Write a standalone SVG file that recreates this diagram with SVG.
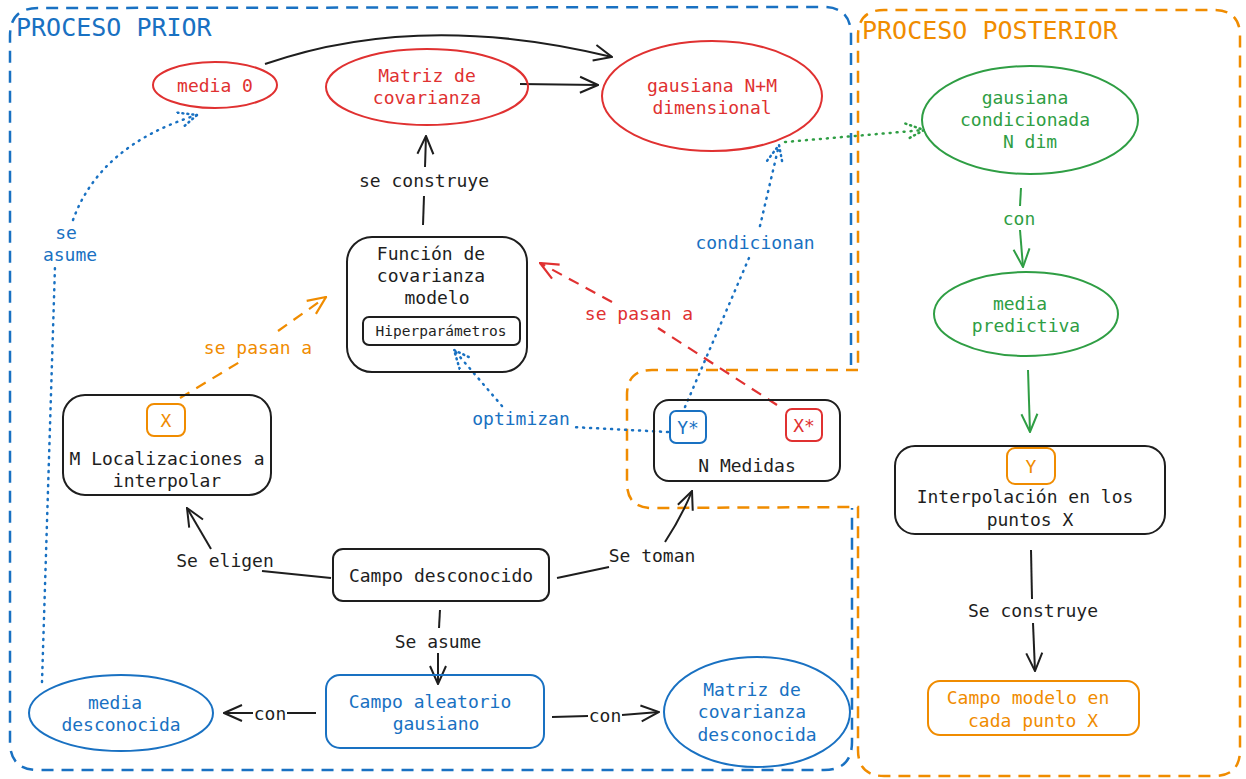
<svg xmlns="http://www.w3.org/2000/svg" width="1246" height="779" viewBox="0 0 1246 779">
<style>
text{font-family:"DejaVu Sans Mono","Liberation Mono",monospace;font-size:18px;text-anchor:middle}
.k{fill:#1e1e1e}.b{fill:#1971c2}.r{fill:#e03131}.o{fill:#f08c00}.g{fill:#2f9e44}
.title{font-size:25px;text-anchor:start}
.sm{font-size:14.5px}
.nk{fill:none;stroke:#1e1e1e;stroke-width:2}
.nb{fill:none;stroke:#1971c2;stroke-width:2}
.nr{fill:none;stroke:#e03131;stroke-width:2}
.no{fill:none;stroke:#f08c00;stroke-width:2}
.ng{fill:none;stroke:#2f9e44;stroke-width:2}
.cont{fill:none;stroke-width:2.5;stroke-dasharray:12 8}
.ck{fill:none;stroke:#1e1e1e;stroke-width:2}
.cg{fill:none;stroke:#2f9e44;stroke-width:2}
.dot{fill:none;stroke-width:2.5;stroke-dasharray:1 6;stroke-linecap:round}
.dash{fill:none;stroke-width:2.2;stroke-dasharray:11 8}
</style>
<defs>
<marker id="ak" viewBox="0 0 20 20" refX="19" refY="10" markerWidth="20" markerHeight="20" orient="auto" markerUnits="userSpaceOnUse"><path d="M1,2 L19,10 L1,18" fill="none" stroke="#1e1e1e" stroke-width="2"/></marker>
<marker id="ag" viewBox="0 0 20 20" refX="19" refY="10" markerWidth="20" markerHeight="20" orient="auto" markerUnits="userSpaceOnUse"><path d="M1,2 L19,10 L1,18" fill="none" stroke="#2f9e44" stroke-width="2"/></marker>
<marker id="ao" viewBox="0 0 20 20" refX="19" refY="10" markerWidth="20" markerHeight="20" orient="auto" markerUnits="userSpaceOnUse"><path d="M1,2 L19,10 L1,18" fill="none" stroke="#f08c00" stroke-width="2.2"/></marker>
<marker id="ar" viewBox="0 0 20 20" refX="19" refY="10" markerWidth="20" markerHeight="20" orient="auto" markerUnits="userSpaceOnUse"><path d="M1,2 L19,10 L1,18" fill="none" stroke="#e03131" stroke-width="2.2"/></marker>
<marker id="adb" viewBox="0 0 20 20" refX="19" refY="10" markerWidth="20" markerHeight="20" orient="auto" markerUnits="userSpaceOnUse"><path d="M1,2 L19,10 L1,18" fill="none" stroke="#1971c2" stroke-width="2.5" stroke-dasharray="1 4" stroke-linecap="round"/></marker>
<marker id="adg" viewBox="0 0 20 20" refX="19" refY="10" markerWidth="20" markerHeight="20" orient="auto" markerUnits="userSpaceOnUse"><path d="M1,2 L19,10 L1,18" fill="none" stroke="#2f9e44" stroke-width="2.5" stroke-dasharray="1 4" stroke-linecap="round"/></marker>
</defs>

<g id="containers">
<path class="cont" stroke="#1971c2" d="M851,365 L851,35 Q851,7 823,7 L38,8 Q10,8 10,36 L10,742 Q10,770 38,770 L824,770 Q852,770 852,742 L852,508"/>
<path class="cont" stroke="#f08c00" d="M858,370 L652,370 Q627,370 627,395 L627,483 Q627,508 652,508 L858,507 L858,750 Q858,776 884,776 L1214,776 Q1240,776 1240,750 L1240,36 Q1240,10 1214,10 L884,10 Q858,10 858,36 Z"/>
<text class="title b" x="16" y="36">PROCESO PRIOR</text>
<text class="title o" x="862" y="39">PROCESO POSTERIOR</text>
</g>

<g id="connectors">
<path class="ck" marker-end="url(#ak)" d="M265,64 Q420,10 612,57"/>
<path class="ck" marker-end="url(#ak)" d="M520,84 L598,85"/>
<path class="ck" d="M423,225 L424,196"/>
<path class="ck" marker-end="url(#ak)" d="M425,167 L426,136"/>
<text class="k" x="424" y="187">se construye</text>
<path class="ck" d="M331,578 L262,571"/>
<path class="ck" marker-end="url(#ak)" d="M211,549 L187,508"/>
<text class="k" x="225" y="567">Se eligen</text>
<path class="ck" d="M557,578 L609,567"/>
<path class="ck" marker-end="url(#ak)" d="M665,542 Q682,516 692,491"/>
<text class="k" x="652" y="562">Se toman</text>
<path class="ck" d="M440,610 L439,628"/>
<path class="ck" marker-end="url(#ak)" d="M438,653 L438,684"/>
<text class="k" x="438" y="648">Se asume</text>
<path class="ck" d="M316,713 L287,713"/>
<path class="ck" marker-end="url(#ak)" d="M253,713 L224,713"/>
<text class="k" x="270" y="720">con</text>
<path class="ck" d="M552,717 L588,716"/>
<path class="ck" marker-end="url(#ak)" d="M622,715 L659,712"/>
<text class="k" x="605" y="722">con</text>
<path class="dash" stroke="#f08c00" d="M180,398 L243,360"/>
<path class="dash" stroke="#f08c00" marker-end="url(#ao)" d="M278,331 L326,297"/>
<text class="o" x="258" y="354">se pasan a</text>
<path class="dash" stroke="#e03131" d="M777,405 L658,328"/>
<path class="dash" stroke="#e03131" marker-end="url(#ar)" d="M612,302 L540,263"/>
<text class="r" x="639" y="320">se pasan a</text>
<path class="dot" stroke="#1971c2" d="M668,432 L572,427"/>
<path class="dot" stroke="#1971c2" marker-end="url(#adb)" d="M502,406 L454,350"/>
<text class="b" x="521" y="425">optimizan</text>
<path class="dot" stroke="#1971c2" d="M685,407 L749,258"/>
<path class="dot" stroke="#1971c2" marker-end="url(#adb)" d="M760,226 L779,145"/>
<text class="b" x="755" y="249">condicionan</text>
<path class="dot" stroke="#1971c2" d="M42,682 L55,266"/>
<path class="dot" stroke="#1971c2" marker-end="url(#adb)" d="M73,220 Q100,145 197,115"/>
<text class="b" x="66" y="239">se</text>
<text class="b" x="70" y="261">asume</text>
<path class="dot" stroke="#2f9e44" marker-end="url(#adg)" d="M785,142 L924,130"/>
<path class="cg" d="M1021,188 L1020,206"/>
<path class="cg" marker-end="url(#ag)" d="M1020,230 L1023,267"/>
<text class="g" x="1019" y="225">con</text>
<path class="cg" marker-end="url(#ag)" d="M1028,370 L1030,432"/>
<path class="ck" d="M1031,550 L1032,599"/>
<path class="ck" marker-end="url(#ak)" d="M1033,623 L1035,671"/>
<text class="k" x="1033" y="617">Se construye</text>
</g>

<g id="media0">
<ellipse class="nr" cx="215" cy="85" rx="62" ry="23"/>
<text class="r" x="215" y="92">media 0</text>
</g>
<g id="matriz-cov">
<ellipse class="nr" cx="427" cy="87" rx="101" ry="38"/>
<text class="r" x="427" y="82">Matriz de</text>
<text class="r" x="427" y="104">covarianza</text>
</g>
<g id="gausiana-nm">
<ellipse class="nr" cx="712" cy="96" rx="110" ry="55"/>
<text class="r" x="712" y="92">gausiana N+M</text>
<text class="r" x="712" y="114">dimensional</text>
</g>
<g id="funcion-cov">
<rect class="nk" x="347" y="237" width="180" height="135" rx="25"/>
<text class="k" x="431" y="260">Función de</text>
<text class="k" x="431" y="282">covarianza</text>
<text class="k" x="437" y="304">modelo</text>
<rect class="nk" x="363" y="317" width="157" height="28" rx="6"/>
<text class="k sm" x="441" y="336">Hiperparámetros</text>
</g>
<g id="m-localizaciones">
<rect class="nk" x="63" y="395" width="208" height="100" rx="22"/>
<rect class="no" x="147" y="404" width="38" height="32" rx="7"/>
<text class="o" x="166" y="427">X</text>
<text class="k" x="167" y="465">M Localizaciones a</text>
<text class="k" x="167" y="487">interpolar</text>
</g>
<g id="n-medidas">
<rect class="nk" x="654" y="400" width="186" height="81" rx="15"/>
<rect class="nb" x="670" y="411" width="36" height="32" rx="6"/>
<text class="b" x="688" y="434">Y*</text>
<rect class="nr" x="786" y="409" width="36" height="32" rx="6"/>
<text class="r" x="804" y="432">X*</text>
<text class="k" x="747" y="472">N Medidas</text>
</g>
<g id="campo-desconocido">
<rect class="nk" x="333" y="549" width="216" height="52" rx="10"/>
<text class="k" x="441" y="582">Campo desconocido</text>
</g>
<g id="campo-aleatorio">
<rect class="nb" x="326" y="675" width="218" height="73" rx="14"/>
<text class="b" x="430" y="708">Campo aleatorio</text>
<text class="b" x="436" y="730">gausiano</text>
</g>
<g id="media-desconocida">
<ellipse class="nb" cx="121" cy="713" rx="92" ry="38"/>
<text class="b" x="115" y="709">media</text>
<text class="b" x="121" y="731">desconocida</text>
</g>
<g id="matriz-desconocida">
<ellipse class="nb" cx="757" cy="712" rx="93" ry="55"/>
<text class="b" x="752" y="696">Matriz de</text>
<text class="b" x="752" y="718">covarianza</text>
<text class="b" x="757" y="741">desconocida</text>
</g>
<g id="gausiana-condicionada">
<ellipse class="ng" cx="1030" cy="120" rx="108" ry="54"/>
<text class="g" x="1025" y="104">gausiana</text>
<text class="g" x="1025" y="126">condicionada</text>
<text class="g" x="1030" y="148">N dim</text>
</g>
<g id="media-predictiva">
<ellipse class="ng" cx="1026" cy="314" rx="92" ry="42"/>
<text class="g" x="1020" y="310">media</text>
<text class="g" x="1026" y="332">predictiva</text>
</g>
<g id="interpolacion">
<rect class="nk" x="895" y="446" width="270" height="88" rx="20"/>
<rect class="no" x="1007" y="448" width="48" height="36" rx="8"/>
<text class="o" x="1031" y="473">Y</text>
<text class="k" x="1025" y="503">Interpolación en los</text>
<text class="k" x="1030" y="526">puntos X</text>
</g>
<g id="campo-modelo">
<rect class="no" x="928" y="681" width="211" height="54" rx="12"/>
<text class="o" x="1028" y="704">Campo modelo en</text>
<text class="o" x="1033" y="727">cada punto X</text>
</g>
</svg>
